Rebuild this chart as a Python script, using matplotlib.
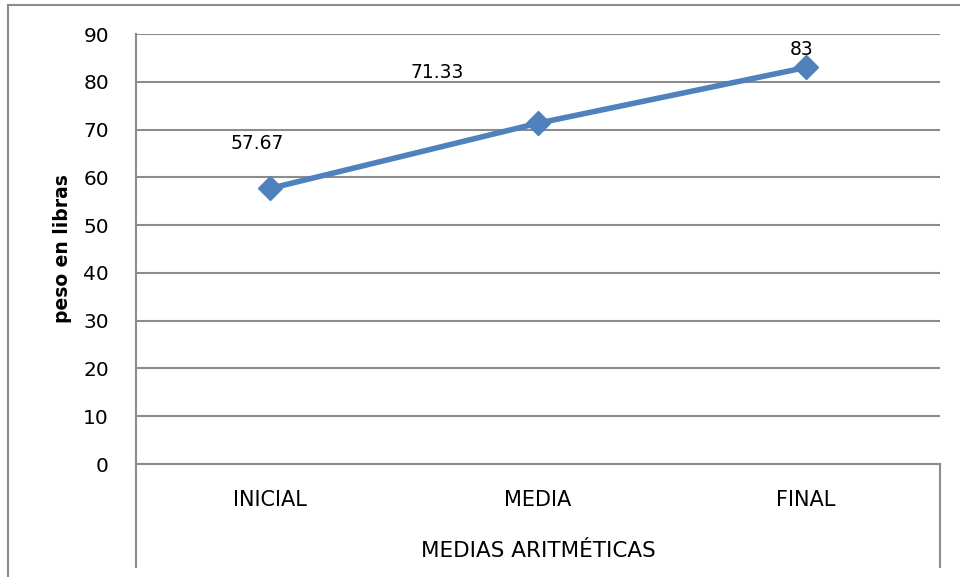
import matplotlib.pyplot as plt
from matplotlib.patches import Rectangle
from matplotlib.lines import Line2D

categories = ["INICIAL", "MEDIA", "FINAL"]
values = [57.67, 71.33, 83]
value_labels = ["57.67", "71.33", "83"]
label_offsets = [(-13, 45), (-101, 51), (-4, 18)]  # pixels

plt.rcParams['font.family'] = ['DejaVu Sans']
W, H = 960, 577
fig = plt.figure(figsize=(W / 100, H / 100), dpi=100)

# outer chart border
fig.patches.append(Rectangle((8 / W, -0.1), 1.2, 1.1 - 5 / H, transform=fig.transFigure,
                             fill=False, edgecolor='#8c8c8c', lw=1.5))

ax = fig.add_axes([136 / W, (H - 464) / H, (940 - 136) / W, (464 - 34) / H])
x = list(range(len(categories)))
ax.plot(x, values, color='#4F81BD', lw=4, marker='D', ms=12, zorder=3)

for xi, v, lab, off in zip(x, values, value_labels, label_offsets):
    ax.annotate(lab, (xi, v), xytext=off, textcoords='offset pixels',
                ha='center', va='center', fontsize=13.5)

ax.set_xlim(-0.5, 2.5)
ax.set_ylim(0, 90)
ax.set_yticks(range(0, 91, 10))
ax.tick_params(axis='y', length=0, pad=19.5, labelsize=14.5)
ax.set_xticks([])
ax.yaxis.grid(True, color='#8c8c8c', lw=1.5)
ax.set_axisbelow(True)
for s in ['top', 'right']:
    ax.spines[s].set_visible(False)
ax.spines['left'].set_color('#8c8c8c')
ax.spines['left'].set_linewidth(1.5)
ax.spines['bottom'].set_color('#8c8c8c')
ax.spines['bottom'].set_linewidth(1.5)

# category table below the axis
drop = (567 - 464) / 430
for xa in (0, 1):
    ax.add_line(Line2D([xa, xa], [0, -drop], transform=ax.transAxes, clip_on=False,
                       color='#8c8c8c', lw=1.5))
for xi, c in zip(x, categories):
    ax.text(xi, -36 / 430 * 90, c, ha='center', va='center', fontsize=15)
ax.text(0.5, -(551 - 464) / 430, "MEDIAS ARITMÉTICAS", transform=ax.transAxes,
        ha='center', va='center', fontsize=15.5)

fig.text(62 / W, 1 - 249 / H, "peso en libras", rotation=90, ha='center', va='center',
         fontsize=13.5, fontweight='bold')

fig.savefig("out.png", dpi=100)
